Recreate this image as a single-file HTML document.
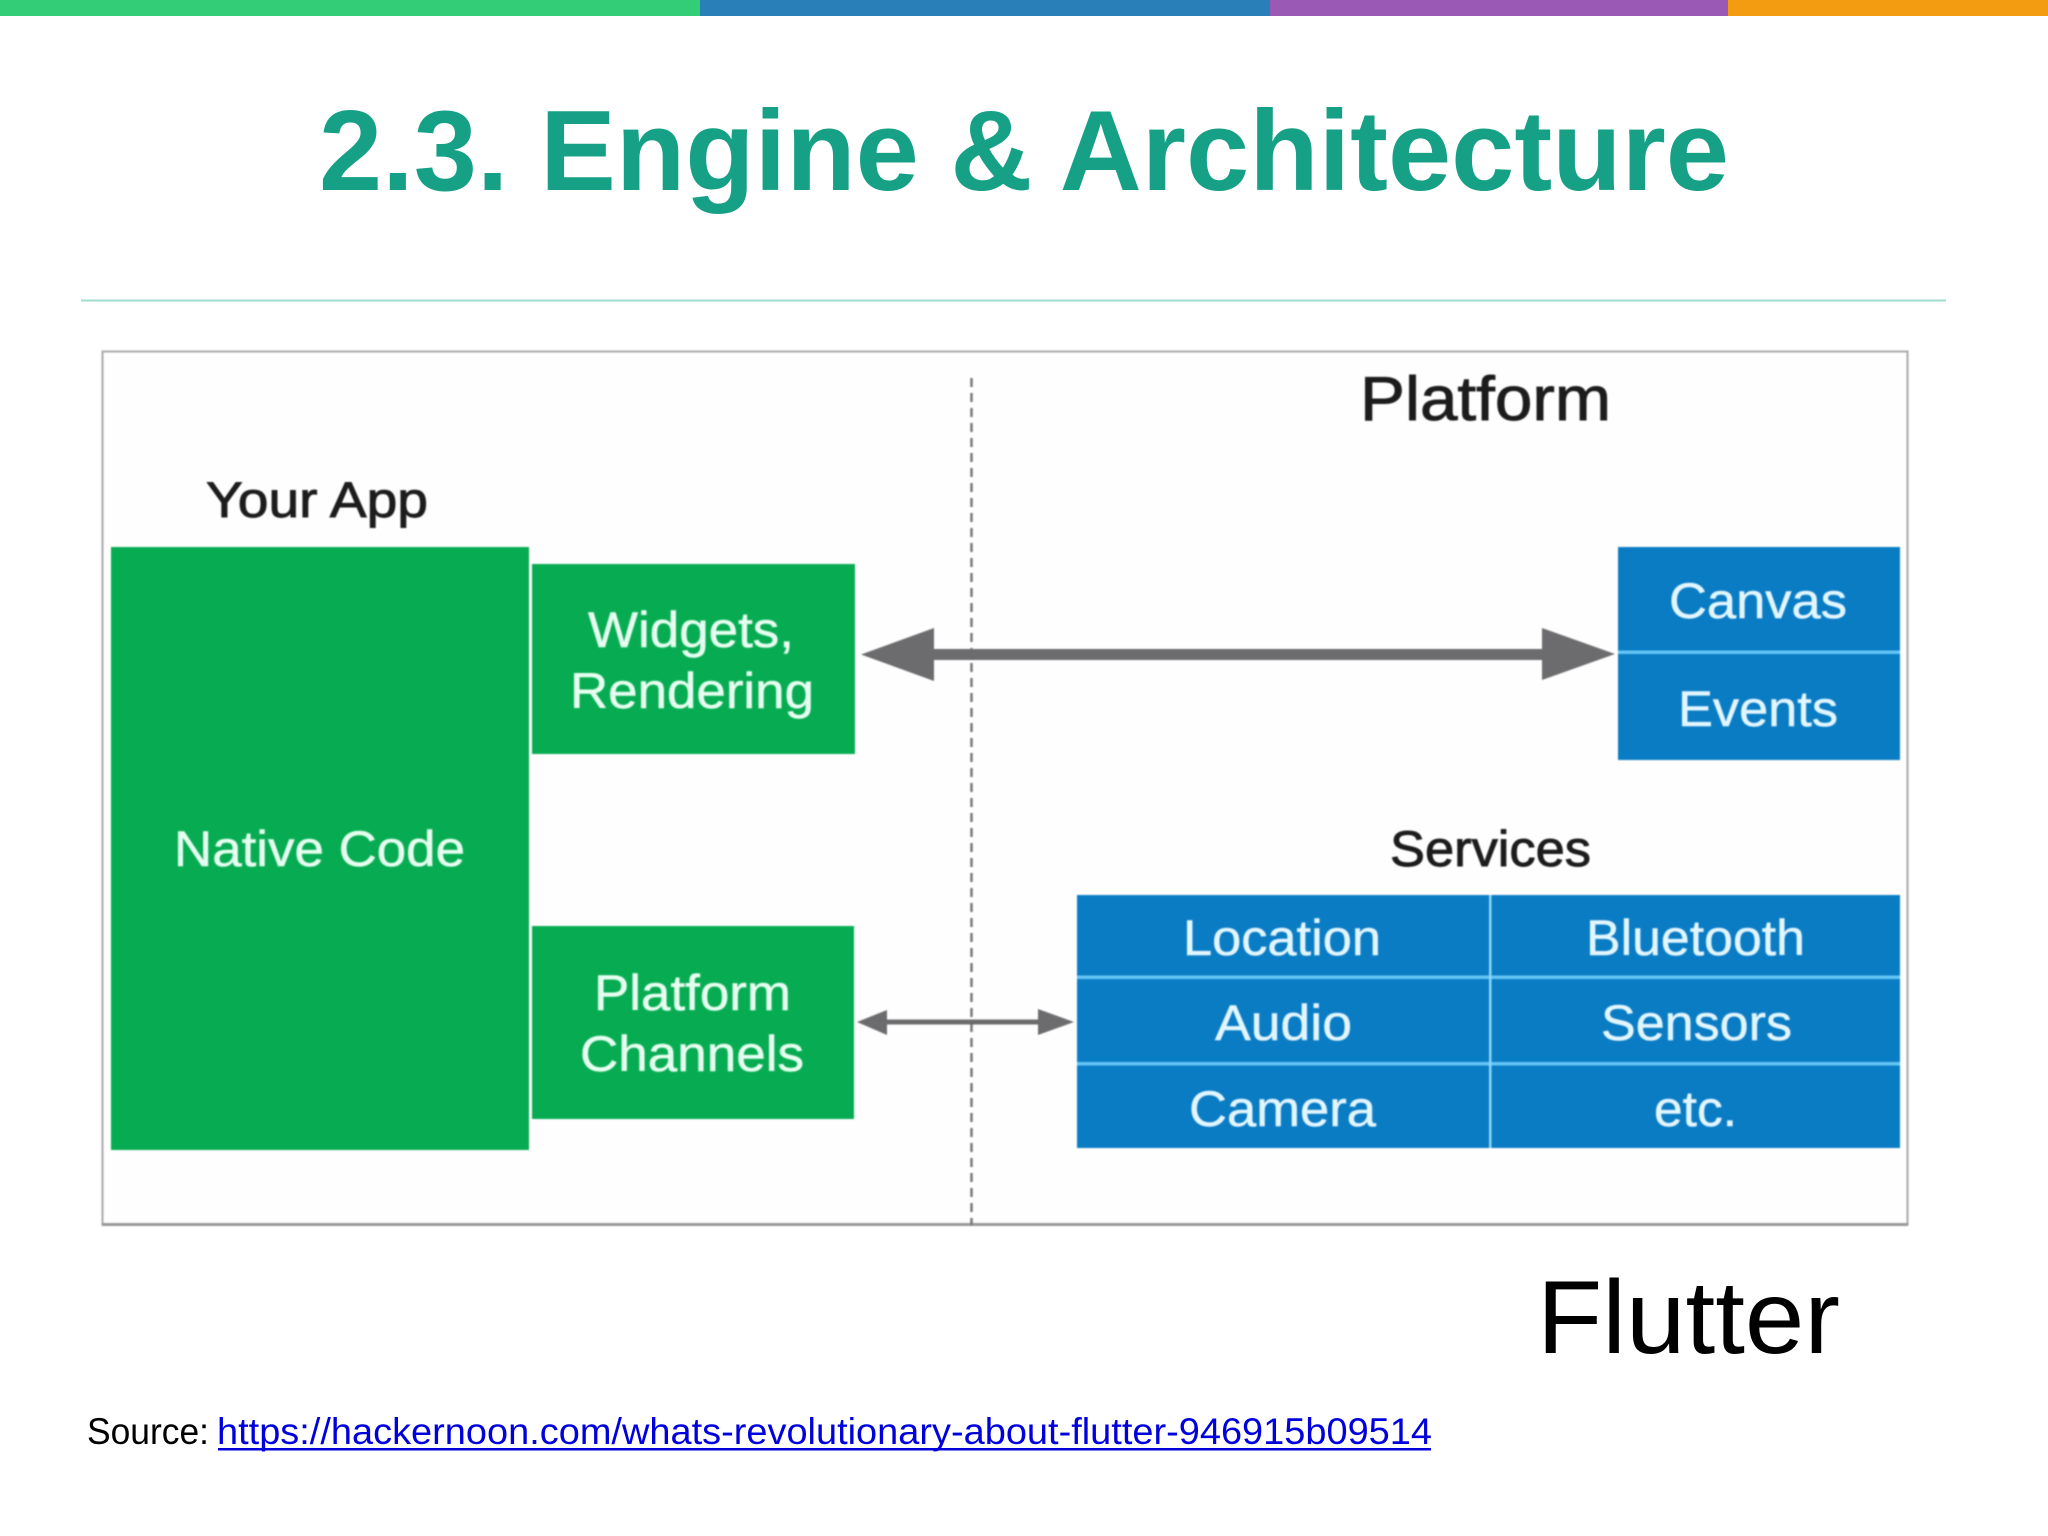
<!DOCTYPE html>
<html lang="en">
<head>
<meta charset="utf-8">
<title>2.3. Engine &amp; Architecture</title>
<style>
html,body{margin:0;padding:0;background:#fff;width:2048px;height:1536px;overflow:hidden}
svg{display:block}
text{font-family:"Liberation Sans",Arial,sans-serif}
.diagram{filter:blur(.7px)}
.g{fill:#e6fff0;font-size:50px;stroke:#e6fff0;stroke-width:.5px}
.b{fill:#e2f6ff;font-size:50px;stroke:#e2f6ff;stroke-width:.5px}
.k{fill:#1c1c1c;font-size:50px;stroke:#1c1c1c;stroke-width:.9px}
</style>
</head>
<body>
<svg xmlns="http://www.w3.org/2000/svg" width="2048" height="1536" viewBox="0 0 2048 1536">
  <rect width="2048" height="1536" fill="#fff"/>
  <rect x="0" y="0" width="700" height="16" fill="#33cc77"/>
  <rect x="700" y="0" width="570" height="16" fill="#2980b9"/>
  <rect x="1270" y="0" width="458" height="16" fill="#9b59b6"/>
  <rect x="1728" y="0" width="320" height="16" fill="#f39c12"/>

  <text x="319" y="190" font-size="114" font-weight="700" fill="#16a085" textLength="1410" lengthAdjust="spacingAndGlyphs">2.3. Engine &amp; Architecture</text>
  <rect x="81" y="299.5" width="1865" height="2" fill="#9fdccc"/>

  <g class="diagram">
    <rect x="102.5" y="351.5" width="1805" height="873" fill="#fefefe" stroke="#a9a9ab" stroke-width="2"/>
    <rect x="102" y="1223" width="1806" height="3" fill="#98989a"/>
    <line x1="971.5" y1="378" x2="971.5" y2="1225" stroke="#77777b" stroke-width="2.5" stroke-dasharray="9 6"/>

    <rect x="111" y="547" width="418" height="603" fill="#07ac52"/>
    <rect x="532" y="564" width="323" height="190" fill="#07ac52"/>
    <rect x="532" y="926" width="322" height="193" fill="#07ac52"/>

    <rect x="1618" y="547" width="282" height="213" fill="#0a7cc4"/>
    <rect x="1618" y="650.5" width="282" height="3.5" fill="#63c6f5"/>
    <rect x="1077" y="895" width="823" height="253" fill="#0a7cc4"/>
    <rect x="1077" y="975.5" width="823" height="3.5" fill="#63c6f5"/>
    <rect x="1077" y="1062" width="823" height="3.5" fill="#63c6f5"/>
    <rect x="1489" y="895" width="2.5" height="253" fill="#8fd6f7"/>

    <rect x="930" y="649" width="615" height="11" fill="#6c6c6e"/>
    <polygon points="861,654.5 934,628 934,681" fill="#6c6c6e"/>
    <polygon points="1615,654 1542,628 1542,680" fill="#6c6c6e"/>
    <rect x="885" y="1019.5" width="155" height="5" fill="#6c6c6e"/>
    <polygon points="857,1022 887,1010 887,1035" fill="#6c6c6e"/>
    <polygon points="1074,1022 1038,1009 1038,1035" fill="#6c6c6e"/>

    <text class="k" x="206" y="517" textLength="222" lengthAdjust="spacingAndGlyphs">Your App</text>
    <text class="k" x="1360" y="420" style="font-size:62px" textLength="251" lengthAdjust="spacingAndGlyphs">Platform</text>
    <text class="k" x="1390" y="866" textLength="201" lengthAdjust="spacingAndGlyphs">Services</text>

    <text class="g" x="174" y="866" textLength="291" lengthAdjust="spacingAndGlyphs">Native Code</text>
    <text class="g" x="588" y="647" textLength="206" lengthAdjust="spacingAndGlyphs">Widgets,</text>
    <text class="g" x="570" y="708" textLength="244" lengthAdjust="spacingAndGlyphs">Rendering</text>
    <text class="g" x="594" y="1010" textLength="197" lengthAdjust="spacingAndGlyphs">Platform</text>
    <text class="g" x="580" y="1071" textLength="224" lengthAdjust="spacingAndGlyphs">Channels</text>

    <text class="b" x="1669" y="618" textLength="178" lengthAdjust="spacingAndGlyphs">Canvas</text>
    <text class="b" x="1678" y="726" textLength="160" lengthAdjust="spacingAndGlyphs">Events</text>
    <text class="b" x="1183" y="955" textLength="198" lengthAdjust="spacingAndGlyphs">Location</text>
    <text class="b" x="1586" y="955" textLength="219" lengthAdjust="spacingAndGlyphs">Bluetooth</text>
    <text class="b" x="1215" y="1040" textLength="137" lengthAdjust="spacingAndGlyphs">Audio</text>
    <text class="b" x="1601" y="1040" textLength="191" lengthAdjust="spacingAndGlyphs">Sensors</text>
    <text class="b" x="1189" y="1126" textLength="187" lengthAdjust="spacingAndGlyphs">Camera</text>
    <text class="b" x="1654" y="1126" textLength="83" lengthAdjust="spacingAndGlyphs">etc.</text>
  </g>

  <text x="1537" y="1353" font-size="104" fill="#000" textLength="303" lengthAdjust="spacingAndGlyphs">Flutter</text>

  <text x="87" y="1444" font-size="37" fill="#000" textLength="122" lengthAdjust="spacingAndGlyphs">Source:</text>
  <text x="217" y="1444" font-size="37" fill="#0000dd" textLength="1215" lengthAdjust="spacingAndGlyphs">https://hackernoon.com/whats-revolutionary-about-flutter-946915b09514</text>
  <rect x="218" y="1448" width="1213" height="2.5" fill="#0000dd"/>
</svg>
</body>
</html>
